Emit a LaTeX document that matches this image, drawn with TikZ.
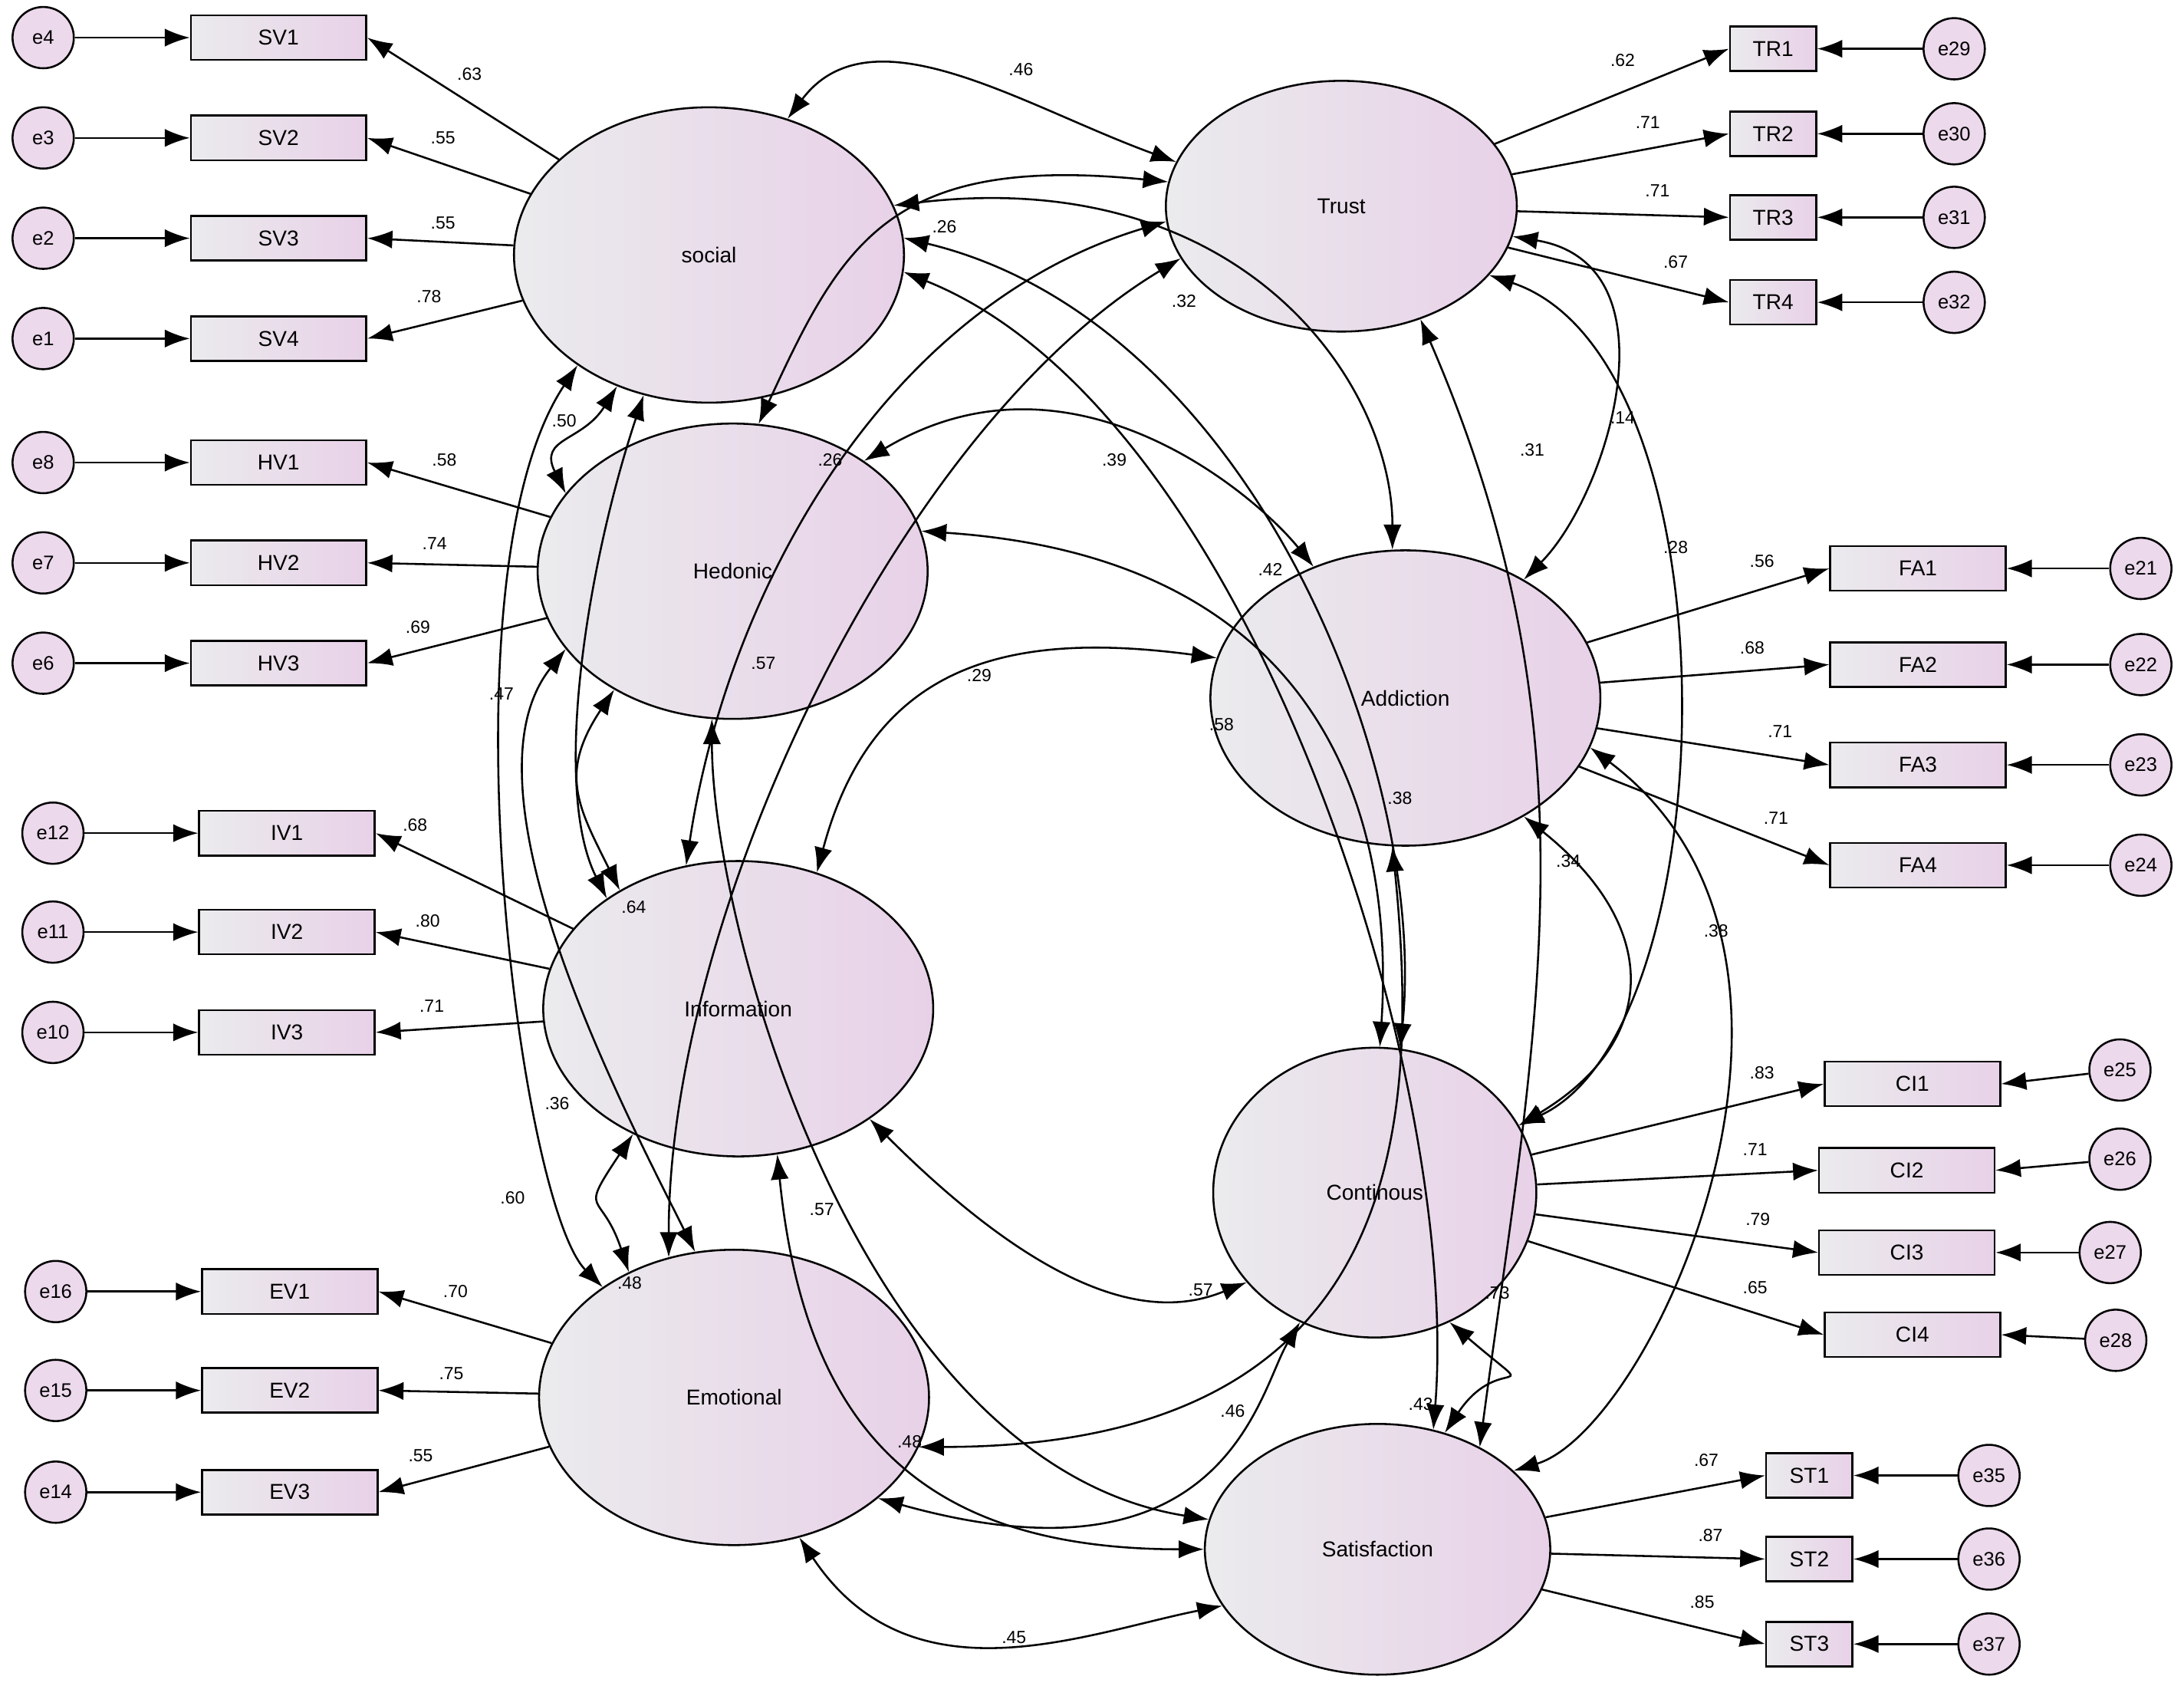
\documentclass[tikz,border=0pt]{standalone}
\usepackage{fontspec}
\setmainfont{Liberation Sans}
\usetikzlibrary{arrows.meta,shapes.geometric}
\begin{document}
\begin{tikzpicture}[x=0.05cm,y=-0.05cm,
 lat/.style={ellipse,draw,line width=2pt,left color=blue!6!gray!15,right color=violet!18,font=\fontsize{22}{26}\selectfont,inner sep=0pt},
 ind/.style={rectangle,draw,line width=2pt,minimum width=6.3cm,minimum height=1.6cm,left color=blue!6!gray!15,right color=violet!18,font=\fontsize{22}{26}\selectfont},
 sind/.style={ind,minimum width=3.1cm},
 err/.style={circle,draw,line width=2pt,minimum size=2.2cm,inner sep=0pt,fill=violet!15,font=\fontsize{20}{24}\selectfont},
 ar/.style={line width=2pt,-{Latex[length=0.9cm,width=0.65cm]}},
 cv/.style={line width=2pt,{Latex[length=0.9cm,width=0.65cm]}-{Latex[length=0.9cm,width=0.65cm]}},
 lb/.style={font=\fontsize{18}{22}\selectfont,inner sep=1pt}]
\useasboundingbox (0,0) rectangle (1568,1210);
% latents
\node[lat,minimum width=14cm,minimum height=10.6cm] (soc) at (509,183) {social};
\node[lat,minimum width=14cm,minimum height=10.6cm] (hed) at (526,410) {Hedonic};
\node[lat,minimum width=14cm,minimum height=10.6cm] (inf) at (530,724) {Information};
\node[lat,minimum width=14cm,minimum height=10.6cm] (emo) at (527,1003) {Emotional};
\node[lat,minimum width=12.6cm,minimum height=9cm] (tru) at (963,148) {Trust};
\node[lat,minimum width=14cm,minimum height=10.6cm] (add) at (1009,501) {Addiction};
\node[lat,minimum width=11.6cm,minimum height=10.4cm] (con) at (987,856) {Continous};
\node[lat,minimum width=12.4cm,minimum height=9cm] (sat) at (989,1112) {Satisfaction};
% left indicators
\foreach \n/\y/\x in {SV1/27/200,SV2/99/200,SV3/171/200,SV4/243/200,HV1/332/200,HV2/404/200,HV3/476/200,IV1/598/206,IV2/669/206,IV3/741/206,EV1/927/208,EV2/998/208,EV3/1071/208}{
 \node[ind] (\n) at (\x,\y) {\n};}
\foreach \e/\x/\y in {e4/31/27,e3/31/99,e2/31/171,e1/31/243,e8/31/332,e7/31/404,e6/31/476,e12/38/598,e11/38/669,e10/38/741,e16/40/927,e15/40/998,e14/40/1071,e29/1403/35,e30/1403/96,e31/1403/156,e32/1403/217,e21/1537/408,e22/1537/477,e23/1537/549,e24/1537/621,e25/1522/768,e26/1522/832,e27/1515/899,e28/1519/962,e35/1428/1059,e36/1428/1119,e37/1428/1180}{
 \node[err] (\e) at (\x,\y) {\e};}
\foreach \n/\x/\y in {TR1/1273/35,TR2/1273/96,TR3/1273/156,TR4/1273/217,ST1/1299/1059,ST2/1299/1119,ST3/1299/1180}{
 \node[sind] (\n) at (\x,\y) {\n};}
\foreach \n/\x/\y in {FA1/1377/408,FA2/1377/477,FA3/1377/549,FA4/1377/621,CI1/1373/778,CI2/1369/840,CI3/1369/899,CI4/1373/958}{
 \node[ind] (\n) at (\x,\y) {\n};}
% error arrows
\foreach \e/\n in {e4/SV1,e3/SV2,e2/SV3,e1/SV4,e8/HV1,e7/HV2,e6/HV3,e12/IV1,e11/IV2,e10/IV3,e16/EV1,e15/EV2,e14/EV3}{
 \draw[ar] (\e) -- (\n.west);}
\foreach \e/\n in {e29/TR1,e30/TR2,e31/TR3,e32/TR4,e21/FA1,e22/FA2,e23/FA3,e24/FA4,e25/CI1,e26/CI2,e27/CI3,e28/CI4,e35/ST1,e36/ST2,e37/ST3}{
 \draw[ar] (\e) -- (\n.east);}
% loadings
\foreach \l/\n/\v/\x/\y in {soc/SV1/.63/337/53,soc/SV2/.55/318/99,soc/SV3/.55/318/160,soc/SV4/.78/308/213,hed/HV1/.58/319/330,hed/HV2/.74/312/390,hed/HV3/.69/300/450,inf/IV1/.68/298/592,inf/IV2/.80/307/661,inf/IV3/.71/310/722,emo/EV1/.70/327/927,emo/EV2/.75/324/986,emo/EV3/.55/302/1045}{
 \draw[ar] (\l) -- (\n.east); \node[lb] at (\x,\y) {\v};}
\foreach \l/\n/\v/\x/\y in {tru/TR1/.62/1165/43,tru/TR2/.71/1183/88,tru/TR3/.71/1190/137,tru/TR4/.67/1203/188,add/FA1/.56/1265/403,add/FA2/.68/1258/465,add/FA3/.71/1278/525,add/FA4/.71/1275/587,con/CI1/.83/1265/770,con/CI2/.71/1260/825,con/CI3/.79/1262/875,con/CI4/.65/1260/924,sat/ST1/.67/1225/1048,sat/ST2/.87/1228/1102,sat/ST3/.85/1222/1150}{
 \draw[ar] (\l) -- (\n.west); \node[lb] at (\x,\y) {\v};}
% covariances
\draw[cv] (soc.60) .. controls +(60,-80) and +(-110,-40) .. (tru.165);
\draw[cv] (soc.235) .. controls +(-25,40) and +(-20,-40) .. (hed.155);
\draw[cv] (soc.245) .. controls +(-40,120) and +(-40,-80) .. (inf.140);
\draw[cv] (soc.220) .. controls +(-100,150) and +(-60,-60) .. (emo.140);
\draw[cv] (soc.15) .. controls +(250,-30) and +(0,-120) .. (add.95);
\draw[cv] (soc.5) .. controls +(250,60) and +(20,-200) .. (con.80);
\draw[cv] (soc.355) .. controls +(250,100) and +(20,-250) .. (sat.65);
\draw[cv] (tru.172) .. controls +(-200,-20) and +(60,-130) .. (hed.80);
\draw[cv] (tru.185) .. controls +(-200,60) and +(30,-200) .. (inf.110);
\draw[cv] (tru.198) .. controls +(-200,120) and +(0,-250) .. (emo.115);
\draw[cv] (tru.350) .. controls +(120,20) and +(60,-60) .. (add.45);
\draw[cv] (tru.335) .. controls +(180,60) and +(150,-70) .. (con.25);
\draw[cv] (tru.305) .. controls +(130,300) and +(40,-300) .. (sat.45);
\draw[cv] (hed.225) .. controls +(-40,60) and +(-30,-60) .. (inf.135);
\draw[cv] (hed.205) .. controls +(-80,100) and +(-50,-100) .. (emo.105);
\draw[cv] (hed.40) .. controls +(150,-90) and +(-40,-50) .. (add.125);
\draw[cv] (hed.12) .. controls +(300,20) and +(10,-150) .. (con.88);
\draw[cv] (hed.262) .. controls +(0,150) and +(-250,-40) .. (sat.170);
\draw[cv] (inf.230) .. controls +(-40,60) and +(-20,-60) .. (emo.130);
\draw[cv] (inf.60) .. controls +(40,-150) and +(-150,-20) .. (add.168);
\draw[cv] (inf.320) .. controls +(150,150) and +(-50,20) .. (con.215);
\draw[cv] (inf.285) .. controls +(20,200) and +(-200,0) .. (sat.180);
\draw[cv] (emo.345) .. controls +(350,0) and +(20,200) .. (add.265);
\draw[cv] (emo.325) .. controls +(250,70) and +(-30,50) .. (con.240);
\draw[cv] (emo.295) .. controls +(80,120) and +(-100,20) .. (sat.200);
\draw[cv] (add.315) .. controls +(100,80) and +(100,-60) .. (con.25);
\draw[cv] (add.345) .. controls +(200,150) and +(100,-30) .. (sat.30);
\draw[cv] (con.300) .. controls +(70,60) and +(40,-60) .. (sat.60);
% covariance labels
\foreach \v/\x/\y in {.46/733/50,.26/678/163,.32/850/216,.50/405/302,.26/596/330,.39/800/330,.31/1100/323,.14/1165/300,.42/912/409,.57/548/476,.29/703/485,.58/877/520,.47/360/498,.28/1203/393,.38/1005/573,.34/1126/618,.38/1232/668,.64/455/651,.36/400/792,.57/590/868,.60/368/860,.48/452/921,.73/1075/928,.57/862/926,.46/885/1013,.43/1020/1008,.48/653/1035,.45/728/1175}{
 \node[lb] at (\x,\y) {\v};}
\end{tikzpicture}
\end{document}
